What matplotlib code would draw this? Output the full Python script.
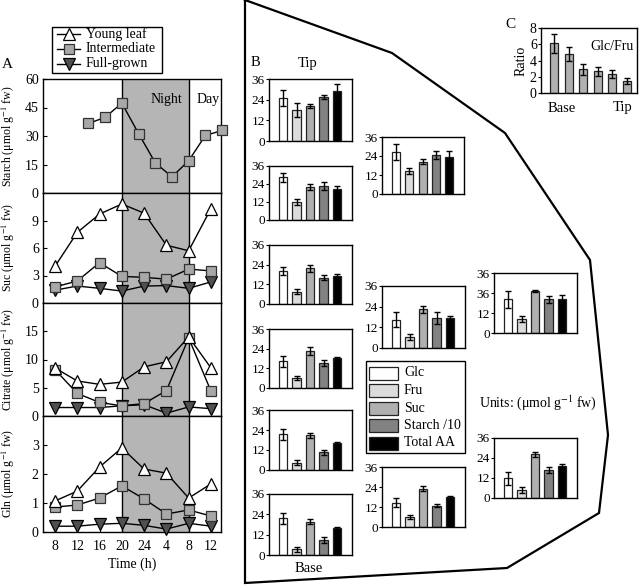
import matplotlib
matplotlib.use('Agg')
import matplotlib.pyplot as plt
from matplotlib.lines import Line2D
from matplotlib.patches import Rectangle

plt.rcParams['font.family'] = ['Liberation Serif', 'DejaVu Serif']
plt.rcParams['mathtext.fontset'] = 'stix'
plt.rcParams['axes.linewidth'] = 1.0

W, H = 640, 586

# ---------------- Panel A data ----------------
time_h = [8, 12, 16, 20, 24, 28, 32, 36]
time_labels = ['8', '12', '16', '20', '24', '4', '8', '12']
starch_h = [14, 17, 20, 23, 26, 29, 32, 35, 38]
starch_int = [36.6, 39.8, 47.3, 31.3, 15.9, 8.5, 17.0, 30.3, 32.9]
suc_young = [4.0, 7.7, 9.7, 10.8, 9.8, 6.3, 5.7, 10.3]
suc_int = [1.75, 2.4, 4.4, 2.9, 2.8, 2.6, 3.7, 3.5]
suc_full = [1.4, 1.85, 1.6, 1.3, 1.85, 1.9, 1.6, 2.3]
cit_young = [8.5, 6.2, 5.6, 6.0, 8.7, 9.6, 14.0, 8.5]
cit_int = [8.2, 4.0, 2.4, 1.8, 2.2, 4.5, 13.8, 4.4]
cit_full = [1.5, 1.5, 1.5, 1.8, 2.0, 0.5, 1.6, 1.3]
gln_young = [1.07, 1.41, 2.24, 2.9, 2.17, 2.03, 1.17, 1.66]
gln_int = [0.86, 0.93, 1.17, 1.59, 1.14, 0.62, 0.76, 0.55]
gln_full = [0.2, 0.2, 0.27, 0.3, 0.23, 0.1, 0.3, 0.2]
night_start, night_end = 20, 32

# ---------------- Panel B data ----------------
b_categories = ['Glc', 'Fru', 'Suc', 'Starch /10', 'Total AA']
p1_mean = [25.0, 18.0, 20.5, 25.5, 29.0]; p1_err = [4.5, 4.2, 1.1, 1.4, 4.3]
p2_mean = [28.5, 12.0, 22.0, 22.7, 21.0]; p2_err = [3.0, 2.0, 2.0, 2.7, 2.0]
p3_mean = [20.1, 7.5, 21.7, 16.1, 17.3]; p3_err = [2.7, 1.4, 2.0, 1.7, 0.7]
p4_mean = [16.2, 6.1, 22.7, 15.2, 18.2]; p4_err = [3.2, 1.4, 2.3, 2.0, 0.5]
p5_mean = [21.6, 4.4, 21.0, 10.6, 16.4]; p5_err = [3.3, 1.5, 1.5, 1.5, 0.7]
p6_mean = [21.6, 3.3, 19.7, 8.9, 15.7]; p6_err = [3.2, 1.5, 1.4, 2.0, 1.0]
m1_mean = [26.5, 14.5, 20.5, 24.5, 23.5]; m1_err = [5.0, 2.0, 1.5, 2.5, 3.5]
m2_mean = [16.5, 6.4, 22.6, 17.6, 17.3]; m2_err = [4.5, 2.0, 2.0, 3.4, 1.0]
m3_mean = [14.6, 5.9, 23.0, 12.8, 18.1]; m3_err = [2.8, 1.1, 1.6, 0.9, 0.5]
r1_mean = [20.2, 8.5, 25.1, 20.2, 20.6]; r1_err = [5.2, 2.0, 0.6, 2.2, 2.0]
r2_mean = [11.9, 4.9, 26.3, 16.8, 19.4]; r2_err = [3.8, 1.6, 1.5, 1.8, 1.0]
b_ticks = [0, 12, 24, 36]
b_ticklabels = ['0', '12', '24', '36']
r1_ticklabels = ['0', '12', '36', '36']

# ---------------- Panel C data ----------------
ratio_mean = [6.1, 4.8, 2.9, 2.65, 2.35, 1.45]
ratio_err = [1.15, 0.9, 0.7, 0.6, 0.5, 0.35]

fig = plt.figure(figsize=(W / 100, H / 100), dpi=100)


def ax_px(x0, y0, x1, y1, **kw):
    return fig.add_axes([x0 / W, 1 - y1 / H, (x1 - x0) / W, (y1 - y0) / H], **kw)


overlay = fig.add_axes([0, 0, 1, 1], zorder=10)
overlay.set_xlim(0, W)
overlay.set_ylim(H, 0)
overlay.axis('off')
overlay.patch.set_alpha(0)

# ---------------- Panel A ----------------
shade = '#b5b5b5'
sq_col = '#a8a8a8'
dn_col = '#505050'
A_boxes = [(43, 79, 221, 193), (43, 193, 221, 303), (43, 303, 221, 416), (43, 416, 221, 532)]
A_ylims = [60, 12, 20, 4]
A_yticks = [[0, 15, 30, 45, 60], [0, 3, 6, 9], [0, 5, 10, 15], [0, 1, 2, 3]]
A_names = ['Starch', 'Suc', 'Citrate', 'Gln']
A_series = [
    [],
    [suc_young, suc_int, suc_full],
    [cit_young, cit_int, cit_full],
    [gln_young, gln_int, gln_full],
]

tri_kw = dict(marker='^', ms=8, mfc='white', mec='black', mew=0.9, color='black', lw=1)
sq_kw = dict(marker='s', ms=6.5, mfc=sq_col, mec='#333333', mew=0.9, color='black', lw=1)
dn_kw = dict(marker='v', ms=8, mfc=dn_col, mec='black', mew=0.9, color='black', lw=1)

for i, box in enumerate(A_boxes):
    ax = ax_px(*box)
    ax.set_xlim(5.85, 37.8)
    ax.set_ylim(0, A_ylims[i])
    ax.axvspan(night_start, night_end, color=shade, lw=0, zorder=0)
    ax.axvline(night_start, color='black', lw=1, zorder=1)
    ax.axvline(night_end, color='black', lw=1, zorder=1)
    ax.set_yticks(A_yticks[i])
    ax.tick_params(axis='y', direction='in', length=3, labelsize=10, pad=3)
    if i == 0:
        ax.plot(starch_h, starch_int, clip_on=False, zorder=3, **sq_kw)
    else:
        yv, iv, fv = A_series[i]
        ax.plot(time_h, fv, clip_on=False, zorder=3, **dn_kw)
        ax.plot(time_h, iv, clip_on=False, zorder=4, **sq_kw)
        ax.plot(time_h, yv, clip_on=False, zorder=5, **tri_kw)
    if i == 3:
        ax.set_xticks(time_h)
        ax.set_xticklabels(time_labels)
        ax.tick_params(axis='x', direction='in', length=3, labelsize=10, pad=6)
        ax.set_xlabel('Time (h)', fontsize=10, labelpad=3)
    else:
        ax.set_xticks([])
    ax.set_ylabel(A_names[i] + ' (μmol g$^{-1}$ fw)', fontsize=8.5, labelpad=2)
    ax.yaxis.set_label_coords(-0.148, 0.5)

overlay.text(166, 99, 'Night', fontsize=10, ha='center', va='center')
overlay.text(208, 99, 'Day', fontsize=10, ha='center', va='center')
overlay.text(2, 65, 'A', fontsize=11, ha='left', va='center')

# legend A
overlay.add_patch(Rectangle((52, 27), 110, 46, fill=False, ec='black', lw=1))
for yy, kw, lab in [(34, tri_kw, 'Young leaf'), (49, sq_kw, 'Intermediate'), (64, dn_kw, 'Full-grown')]:
    overlay.add_line(Line2D([57, 80], [yy, yy], color='black', lw=1))
    k = dict(kw)
    k.pop('color'); k.pop('lw')
    overlay.plot([68.5], [yy], linestyle='none', **k)
    overlay.text(86, yy, lab, fontsize=10, ha='left', va='center')

# ---------------- Panel B ----------------
bar_cols = ['white', '#dcdcdc', '#b0b0b0', '#828282', 'black']
b_plots = [
    ((269, 79, 352, 141), p1_mean, p1_err, b_ticklabels),
    ((269, 166, 352, 220), p2_mean, p2_err, b_ticklabels),
    ((269, 245, 352, 304), p3_mean, p3_err, b_ticklabels),
    ((269, 329, 352, 388), p4_mean, p4_err, b_ticklabels),
    ((269, 410, 352, 470), p5_mean, p5_err, b_ticklabels),
    ((269, 494, 352, 555), p6_mean, p6_err, b_ticklabels),
    ((382, 137, 464, 194), m1_mean, m1_err, b_ticklabels),
    ((382, 286, 465, 348), m2_mean, m2_err, b_ticklabels),
    ((382, 467, 465, 527), m3_mean, m3_err, b_ticklabels),
    ((494, 273, 577, 333), r1_mean, r1_err, r1_ticklabels),
    ((494, 438, 577, 498), r2_mean, r2_err, b_ticklabels),
]
for box, means, errs, tl in b_plots:
    ax = ax_px(*box)
    xs = list(range(len(means)))
    ax.bar(xs, means, width=0.62, color=bar_cols, edgecolor='#222222', linewidth=0.9)
    ax.errorbar(xs, means, yerr=errs, fmt='none', ecolor='black', elinewidth=1, capsize=2.5, capthick=1)
    ax.set_xlim(-1.05, 5.1)
    ax.set_ylim(0, 36)
    ax.set_xticks([])
    ax.set_yticks(b_ticks)
    ax.set_yticklabels(tl)
    ax.tick_params(axis='y', direction='out', length=2, labelsize=9.5, pad=1)

overlay.text(251, 63, 'B', fontsize=10.5, ha='left', va='center')
overlay.text(308, 63, 'Tip', fontsize=10.5, ha='center', va='center')
overlay.text(309, 568, 'Base', fontsize=10.5, ha='center', va='center')

# legend B
overlay.add_patch(Rectangle((366, 361), 99, 92, fill=False, ec='black', lw=1))
for j, (c, lab) in enumerate(zip(bar_cols, b_categories)):
    yy = 373 + j * 17.5
    overlay.add_patch(Rectangle((369, yy - 6.5), 29, 13, fc=c, ec='#222222', lw=0.9))
    overlay.text(404, yy, lab, fontsize=10, ha='left', va='center')

overlay.text(479, 403, 'Units: (μmol g$^{-1}$ fw)', fontsize=10, ha='left', va='center')

# ---------------- Panel C ----------------
axc = ax_px(541, 28, 637, 93)
xc = list(range(len(ratio_mean)))
axc.bar(xc, ratio_mean, width=0.55, color='#b0b0b0', edgecolor='#222222', linewidth=0.9)
axc.errorbar(xc, ratio_mean, yerr=ratio_err, fmt='none', ecolor='black', elinewidth=1, capsize=2.5, capthick=1)
axc.set_xlim(-0.9, 5.7)
axc.set_ylim(0, 8)
axc.set_yticks([0, 2, 4, 6, 8])
axc.set_xticks([])
axc.tick_params(axis='y', direction='out', length=2, labelsize=10, pad=1)
axc.set_ylabel('Ratio', fontsize=10, labelpad=2)
axc.text(0.97, 0.72, 'Glc/Fru', transform=axc.transAxes, fontsize=10, ha='right', va='center')
overlay.text(510, 25, 'C', fontsize=11, ha='center', va='center')
overlay.text(562, 108, 'Base', fontsize=10.5, ha='center', va='center')
overlay.text(623, 108, 'Tip', fontsize=10.5, ha='center', va='center')

# ---------------- outline ----------------
px = [245, 392, 505, 590, 608, 599, 507, 245, 245]
py = [0, 53, 133, 260, 435, 513, 568, 583, 0]
overlay.add_line(Line2D(px, py, color='black', lw=1.6, solid_joinstyle='miter', clip_on=False))

fig.savefig('out.png', dpi=100)
